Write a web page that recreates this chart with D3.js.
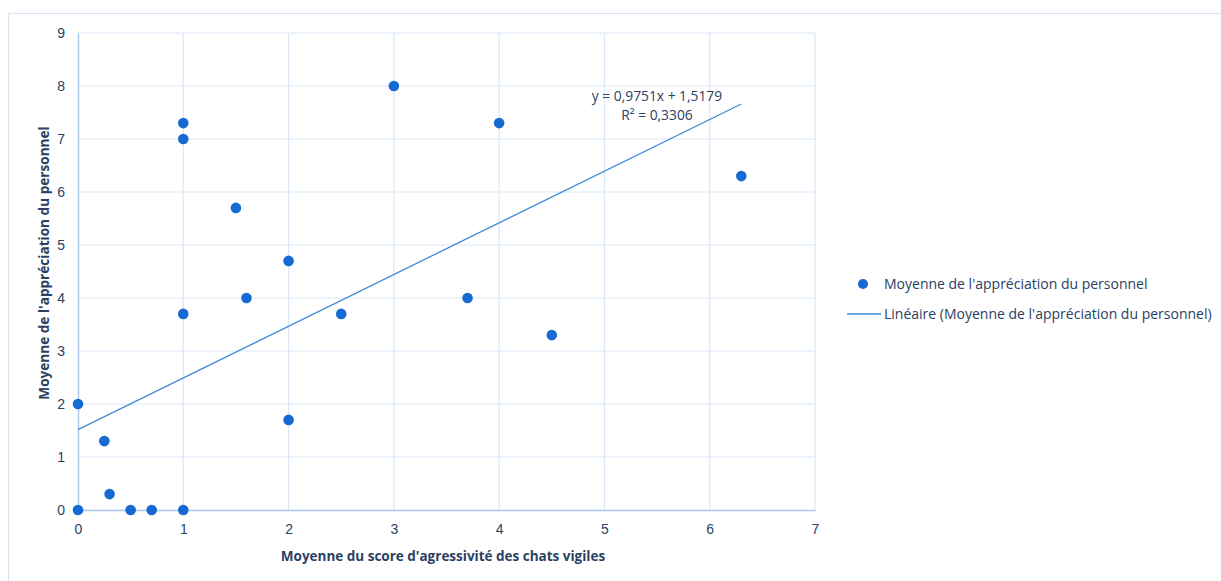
<!DOCTYPE html>
<html><head><meta charset="utf-8">
<script src="https://cdn.jsdelivr.net/npm/d3@7"></script>
<style>
html,body{margin:0;padding:0;background:#fff;}
svg{display:block;font-family:"Open Sans","Noto Sans",sans-serif;}
</style></head>
<body>
<svg id="chart" width="1221" height="581"></svg>
<script>
const xValues = [0, 0, 0.25, 0.3, 0.5, 0.7, 1, 1, 1, 1, 1.5, 1.6, 2, 2, 2.5, 3, 3.7, 4, 4.5, 6.3];
const yValues = [2, 0, 1.3, 0.3, 0, 0, 0, 3.7, 7, 7.3, 5.7, 4, 4.7, 1.7, 3.7, 8, 4, 7.3, 3.3, 6.3];
const xTicks = [0, 1, 2, 3, 4, 5, 6, 7];
const yTicks = [0, 1, 2, 3, 4, 5, 6, 7, 8, 9];
const trendSlope = 0.9751, trendIntercept = 1.5179, trendR2 = 0.3306;
const seriesName = "Moyenne de l'appréciation du personnel";
const trendName = "Linéaire (Moyenne de l'appréciation du personnel)";
const xTitle = "Moyenne du score d'agressivité des chats vigiles";
const yTitle = "Moyenne de l'appréciation du personnel";
const eqLabel = "y = 0,9751x + 1,5179";
const r2Label = "R² = 0,3306";

const svg = d3.select("#chart");
const x = d3.scaleLinear().domain([0, 7]).range([78, 815]);
const y = d3.scaleLinear().domain([0, 9]).range([510, 33]);
const textCol = "#2b4163";
const dotCol = "#176ad2";
const gridCol = "#dbe7f7";
const axisCol = "#abc9ee";

// outer frame
svg.append("rect").attr("x", 8.5).attr("y", 13.5).attr("width", 1300).attr("height", 700)
  .attr("fill", "none").attr("stroke", "#d8e5f5").attr("stroke-width", 1.2);

// grid
svg.append("g").selectAll("line.v").data(xTicks.filter(d => d > 0)).join("line")
  .attr("x1", d => x(d)).attr("x2", d => x(d)).attr("y1", y(9)).attr("y2", y(0))
  .attr("stroke", gridCol).attr("stroke-width", 1.2);
svg.append("g").selectAll("line.h").data(yTicks.filter(d => d > 0)).join("line")
  .attr("x1", x(0)).attr("x2", x(7)).attr("y1", d => y(d)).attr("y2", d => y(d))
  .attr("stroke", gridCol).attr("stroke-width", 1.2);

// axes
const xAxis = svg.append("g").attr("transform", `translate(0,${y(0)})`)
  .call(d3.axisBottom(x).tickValues(xTicks).tickSize(0).tickPadding(14).tickFormat(d3.format("d")));
xAxis.select(".domain").attr("stroke", axisCol).attr("stroke-width", 1.5);
xAxis.selectAll("text").attr("fill", textCol).attr("font-size", 14);

const yAxis = svg.append("g").attr("transform", `translate(${x(0)},0)`)
  .call(d3.axisLeft(y).tickValues(yTicks).tickSize(0).tickPadding(13).tickFormat(d3.format("d")));
yAxis.select(".domain").attr("stroke", axisCol).attr("stroke-width", 1.5);
yAxis.selectAll("text").attr("fill", textCol).attr("font-size", 14);

// trendline
const xmin = d3.min(xValues), xmax = d3.max(xValues);
svg.append("line")
  .attr("x1", x(xmin)).attr("y1", y(trendSlope * xmin + trendIntercept))
  .attr("x2", x(xmax)).attr("y2", y(trendSlope * xmax + trendIntercept))
  .attr("stroke", "#3d8ad8").attr("stroke-width", 1.3);

// points
svg.append("g").selectAll("circle").data(xValues.map((v, i) => [v, yValues[i]])).join("circle")
  .attr("cx", d => x(d[0])).attr("cy", d => y(d[1])).attr("r", 5.3).attr("fill", dotCol);

// equation label
svg.append("text").attr("x", 657).attr("y", 101).attr("text-anchor", "middle")
  .attr("fill", textCol).attr("font-size", 13.8).text(eqLabel);
svg.append("text").attr("x", 657).attr("y", 120).attr("text-anchor", "middle")
  .attr("fill", textCol).attr("font-size", 13.8).text(r2Label);

// axis titles
svg.append("text").attr("x", 443).attr("y", 561).attr("text-anchor", "middle")
  .attr("fill", textCol).attr("font-size", 13.5).attr("font-weight", "bold").text(xTitle);
svg.append("text").attr("transform", `translate(49,263) rotate(-90)`)
  .attr("text-anchor", "middle").attr("fill", textCol).attr("font-size", 13.6)
  .attr("font-weight", "bold").text(yTitle);

// legend
svg.append("circle").attr("cx", 863).attr("cy", 284).attr("r", 5).attr("fill", dotCol);
svg.append("text").attr("x", 884).attr("y", 289).attr("fill", textCol).attr("font-size", 14).text(seriesName);
svg.append("line").attr("x1", 847).attr("x2", 881).attr("y1", 314).attr("y2", 314)
  .attr("stroke", "#3d8ad8").attr("stroke-width", 1.3);
svg.append("text").attr("x", 884).attr("y", 319).attr("fill", textCol).attr("font-size", 14).text(trendName);
</script>
</body></html>
